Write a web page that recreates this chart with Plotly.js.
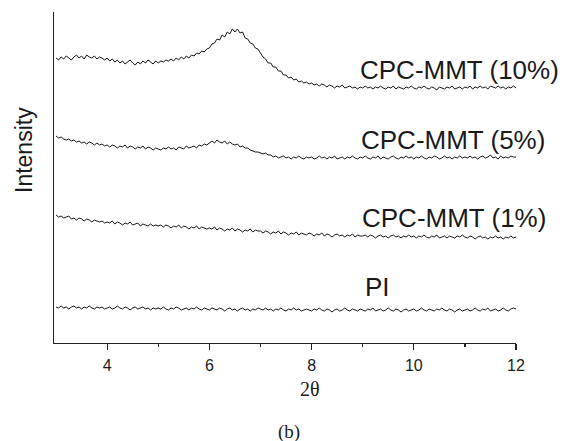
<!DOCTYPE html>
<html>
<head>
<meta charset="utf-8">
<script src="https://cdn.plot.ly/plotly-3.0.1.min.js"></script>
<style>html,body{margin:0;padding:0;background:#fff;}#chart{width:570px;height:441px;}</style>
</head>
<body>
<div id="chart"></div>
<script>
// 2-theta sampling grid: 3.00 .. 12.00, step 0.05
const thetaStart = 3.0, thetaStep = 0.05, thetaCount = 181;
const twoTheta = [];
for (let i = 0; i < thetaCount; i++) twoTheta.push(+(thetaStart + i * thetaStep).toFixed(2));

const seriesNames = ["CPC-MMT (10%)", "CPC-MMT (5%)", "CPC-MMT (1%)", "PI"];

const cpc10 = [
285,283,286,284,287,285,283,286,288,285,287,284,288,286,285,287,284,286,285,283,
285,282,284,281,283,280,282,279,281,283,280,278,281,279,282,280,283,281,279,282,
280,282,281,283,282,284,282,285,283,286,284,287,285,288,287,290,289,292,291,294,
295,299,300,304,303,308,306,311,309,314,311,314,310,311,305,304,300,299,295,294,
290,286,284,280,280,276,276,272,272,268,268,265,266,263,264,261,262,260,261,259,
260,258,259,257,259,258,256,258,257,255,257,256,258,255,256,257,255,256,254,256,
255,257,255,256,254,256,255,257,255,254,256,255,257,254,256,255,254,256,255,257,
255,254,256,255,257,255,254,256,255,253,256,255,254,256,255,257,254,255,256,254,
256,255,257,254,256,255,257,255,256,254,257,256,255,257,255,256,254,256,255,257,
255];

const cpc5 = [
207,205,206,204,203,204,202,203,201,202,200,201,199,201,200,198,200,198,199,197,
198,196,198,197,195,197,196,198,195,197,196,194,196,195,197,194,196,195,193,195,
194,193,195,194,196,194,195,193,196,195,194,197,195,196,197,195,198,197,199,198,
200,202,200,203,201,200,202,199,201,199,198,199,196,197,195,195,193,192,191,191,
190,189,190,188,188,186,187,185,186,187,185,186,184,186,185,187,185,184,186,185,
186,184,185,187,185,186,184,186,185,187,184,185,186,184,186,185,187,185,184,186,
185,187,185,184,186,185,187,184,186,185,184,186,187,185,184,186,185,187,185,186,
184,186,185,187,185,184,186,185,187,186,184,185,187,185,186,184,186,185,187,185,
186,185,187,185,186,184,186,187,185,186,188,185,186,184,187,185,186,185,187,186,
186];

const cpc1 = [
128,126,127,125,126,127,124,125,123,125,124,122,124,123,121,123,122,121,122,120,
121,120,122,119,121,120,118,120,119,121,118,119,120,117,119,118,117,119,117,118,
117,118,116,118,117,115,117,116,118,115,117,116,114,116,115,117,114,116,115,114,
115,114,116,113,115,114,112,114,113,115,112,114,113,111,113,112,114,111,113,112,
112,110,112,111,109,111,110,112,109,111,110,108,110,109,111,108,110,109,108,110,
109,107,109,108,110,107,109,108,106,108,109,107,108,106,108,107,109,106,108,107,
107,108,106,108,107,105,107,108,106,107,105,107,108,106,107,105,107,106,108,106,
107,105,107,106,108,106,105,107,106,108,105,106,107,105,107,106,105,107,106,108,
106,105,107,106,104,106,107,105,106,104,106,105,107,105,106,104,106,105,107,105,
106];

const pi = [
36,35,37,35,36,34,36,37,35,36,34,36,35,37,35,34,36,35,36,34,
35,36,34,35,37,35,34,36,35,33,35,36,34,35,36,34,35,33,35,34,
35,34,36,34,33,35,34,36,35,33,34,35,33,35,34,36,34,33,35,34,
33,35,34,33,35,34,32,34,35,33,34,32,34,35,33,34,32,34,33,35,
34,33,35,33,34,32,34,33,35,33,32,34,33,35,33,34,32,33,34,33,
32,34,33,35,33,32,34,33,31,33,34,32,33,35,33,32,34,33,32,34,
33,32,34,33,35,32,33,34,32,33,35,33,32,34,33,31,33,34,32,33,
34,32,33,35,33,32,34,33,32,34,33,35,33,32,34,33,31,33,34,32,
33,34,32,33,35,33,32,34,33,35,32,33,34,32,33,35,33,32,34,35,
34];

const xTickVals = [4, 6, 8, 10, 12];
const xTickText = ["4", "6", "8", "10", "12"];

const allSeries = [cpc10, cpc5, cpc1, pi];
const lineColor = "#151515";

const traces = allSeries.map((ys, i) => ({
  type: "scatter",
  mode: "lines",
  name: seriesNames[i],
  x: twoTheta,
  y: ys,
  line: {color: lineColor, width: 1},
  hoverinfo: "skip"
}));

const labelX = [8.91, 8.93, 8.95, 9.01];
const labelY = [273, 203, 125, 56];

const annotations = seriesNames.map((t, i) => ({
  text: t, x: labelX[i], y: labelY[i], xref: "x", yref: "y",
  xanchor: "left", yanchor: "middle", showarrow: false,
  font: {family: "Liberation Sans, Arial, sans-serif", size: 26, color: "#1a1a1a"}
}));

annotations.push({
  text: "Intensity", xref: "paper", yref: "paper", x: -0.065, y: 0.583,
  xanchor: "center", yanchor: "middle", textangle: -90, showarrow: false,
  font: {family: "Liberation Sans, Arial, sans-serif", size: 23, color: "#1a1a1a"}
});
annotations.push({
  text: "2θ", xref: "paper", yref: "paper", x: 0.554, y: -0.139,
  xanchor: "center", yanchor: "middle", showarrow: false,
  font: {family: "Liberation Serif, Times New Roman, serif", size: 20, color: "#1a1a1a"}
});
annotations.push({
  text: "(b)", xref: "paper", yref: "paper", x: 0.509, y: -0.269,
  xanchor: "center", yanchor: "middle", showarrow: false,
  font: {family: "Liberation Serif, Times New Roman, serif", size: 19, color: "#1a1a1a"}
});

const layout = {
  width: 570, height: 441,
  margin: {l: 54, r: 54, t: 12, b: 98, pad: 0},
  paper_bgcolor: "#fff", plot_bgcolor: "#fff",
  showlegend: false,
  xaxis: {
    range: [2.96, 12], showgrid: false, zeroline: false,
    showline: true, linecolor: "#222", linewidth: 1.3,
    tickmode: "array", tickvals: xTickVals, ticktext: xTickText,
    ticks: "outside", ticklen: 6, tickwidth: 1.3, tickcolor: "#222",
    ticklabelstandoff: 1,
    minor: {tickmode: "array", tickvals: [5, 7, 9, 11], ticks: "outside", ticklen: 3, tickwidth: 1.3, tickcolor: "#222", showgrid: false},
    tickfont: {family: "Liberation Sans, Arial, sans-serif", size: 16, color: "#1a1a1a"},
    fixedrange: true
  },
  yaxis: {
    range: [0, 331], showgrid: false, zeroline: false,
    showline: true, linecolor: "#222", linewidth: 1.3,
    ticks: "", showticklabels: false, fixedrange: true
  },
  annotations: annotations
};

Plotly.newPlot("chart", traces, layout, {staticPlot: true, displayModeBar: false});
</script>
</body>
</html>
